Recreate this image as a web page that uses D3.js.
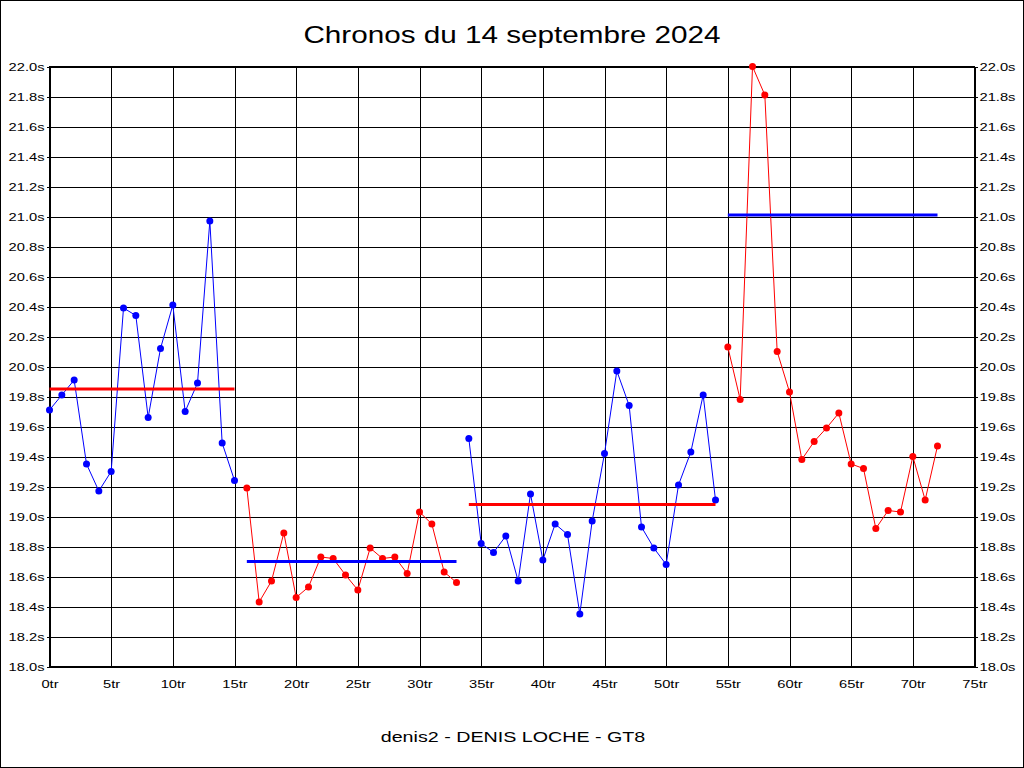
<!DOCTYPE html>
<html lang="fr">
<head>
    <meta charset="UTF-8">
    <script src="https://d3js.org/d3.v7.min.js"></script>
    <title>Chronos</title>
    <style>
        body { margin: 0; background: #fff; }
        svg { display: block; font-family: 'Liberation Sans', Arial, sans-serif; }
        .grid line { stroke: #000; shape-rendering: crispEdges; }
        .grid path { display: none; }
        .axis path, .axis line { stroke: #000; shape-rendering: crispEdges; }
        .axis text { fill: #000; font-size: 11.5px; }
    </style>
</head>
<body>
<svg height="768" width="1024"></svg>
<script>
    const width = 1024, height = 768;

    // temps au tour (s), tours 0..72
    const lapTimes = [
        19.71, 19.81, 19.91, 19.35, 19.17, 19.30, 20.39, 20.34, 19.66, 20.12,
        20.41, 19.70, 19.89, 20.97, 19.49, 19.24,
        19.19, 18.43, 18.57, 18.89, 18.46, 18.53, 18.73, 18.72, 18.61, 18.51,
        18.79, 18.72, 18.73, 18.62, 19.03, 18.95, 18.63, 18.56,
        19.52, 18.82, 18.76, 18.87, 18.57, 19.15, 18.71, 18.95, 18.88, 18.35,
        18.97, 19.42, 19.97, 19.74, 18.93, 18.79, 18.68, 19.21, 19.43, 19.81, 19.11,
        20.13, 19.78, 22.00, 21.81, 20.10, 19.83, 19.38, 19.50, 19.59, 19.69,
        19.35, 19.32, 18.92, 19.04, 19.03, 19.40, 19.11, 19.47
    ];
    // relais : premier tour, dernier tour, moyenne affichée
    const stintFirst = [0, 16, 34, 55];
    const stintLast = [15, 33, 54, 72];
    const stintMeans = [19.85, 18.70, 19.08, 21.01];

    const xTicks = d3.range(0, 76, 5);
    const yTicks = d3.range(0, 21).map(i => 18 + i * 0.2);

    const lineColors = ["#0000ff", "#ff0000"];
    const sx = 1.28; // étirement horizontal du texte

    const pLeft = 49, pRight = 974, pTop = 66, pBottom = 666;
    const x = d3.scaleLinear().domain([0, 75]).range([pLeft + 0.5, pRight + 0.5]);
    const y = d3.scaleLinear().domain([18, 22]).range([pBottom + 0.5, pTop + 0.5]);

    const svg = d3.select("svg");

    svg.append("rect")
            .attr("x", 0.5).attr("y", 0.5)
            .attr("width", width - 1).attr("height", height - 1)
            .attr("fill", "#fff").attr("stroke", "#000")
            .style("shape-rendering", "crispEdges");

    // grille
    svg.append("g").attr("class", "grid")
            .attr("transform", `translate(0,${pTop + 0.5})`)
            .call(d3.axisBottom(x).tickValues(xTicks).tickSize(pBottom - pTop).tickFormat(""));
    svg.append("g").attr("class", "grid")
            .attr("transform", `translate(${pLeft + 0.5},0)`)
            .call(d3.axisRight(y).tickValues(yTicks).tickSize(pRight - pLeft).tickFormat(""));

    const fmtY = d => d.toFixed(1) + "s";

    const axL = svg.append("g").attr("class", "axis")
            .attr("transform", `translate(${pLeft + 0.5},0)`)
            .call(d3.axisLeft(y).tickValues(yTicks).tickSize(3).tickSizeOuter(0).tickFormat(fmtY));
    axL.selectAll("text").attr("x", 0).attr("transform", `translate(-5,0) scale(${sx},1)`);

    const axR = svg.append("g").attr("class", "axis")
            .attr("transform", `translate(${pRight + 0.5},0)`)
            .call(d3.axisRight(y).tickValues(yTicks).tickSize(3).tickSizeOuter(0).tickFormat(fmtY));
    axR.selectAll("text").attr("x", 0).attr("transform", `translate(5,0) scale(${sx},1)`);

    const axB = svg.append("g").attr("class", "axis")
            .attr("transform", `translate(0,${pBottom + 0.5})`)
            .call(d3.axisBottom(x).tickValues(xTicks).tickSize(0).tickPadding(13).tickFormat(d => d + "tr"));
    axB.selectAll("text").attr("transform", `scale(${sx},1)`);

    svg.append("rect")
            .attr("x", pLeft + 0.5).attr("y", pTop + 0.5)
            .attr("width", pRight - pLeft).attr("height", pBottom - pTop)
            .attr("fill", "none").attr("stroke", "#000")
            .style("shape-rendering", "crispEdges");

    const line = d3.line().x(d => x(d.lap)).y(d => y(d.t));

    stintFirst.forEach((first, i) => {
        const col = lineColors[i % 2], meanCol = lineColors[(i + 1) % 2];
        const pts = d3.range(first, stintLast[i] + 1).map(l => ({lap: l, t: lapTimes[l]}));
        const g = svg.append("g");
        g.append("path").datum(pts)
                .attr("d", line).attr("fill", "none")
                .attr("stroke", col).attr("stroke-width", 1);
        g.selectAll("circle").data(pts).enter().append("circle")
                .attr("cx", d => x(d.lap)).attr("cy", d => y(d.t))
                .attr("r", 3.5).attr("fill", col);
        g.append("line")
                .attr("x1", x(first)).attr("x2", x(stintLast[i]))
                .attr("y1", y(stintMeans[i])).attr("y2", y(stintMeans[i]))
                .attr("stroke", meanCol).attr("stroke-width", 3);
    });

    svg.append("text")
            .attr("transform", `translate(512,43) scale(1.29,1)`)
            .attr("text-anchor", "middle").style("font-size", "23px")
            .text("Chronos du 14 septembre 2024");

    svg.append("text")
            .attr("transform", `translate(513,742) scale(1.27,1)`)
            .attr("text-anchor", "middle").style("font-size", "15.5px")
            .text("denis2 - DENIS LOCHE - GT8");
</script>
</body>
</html>
